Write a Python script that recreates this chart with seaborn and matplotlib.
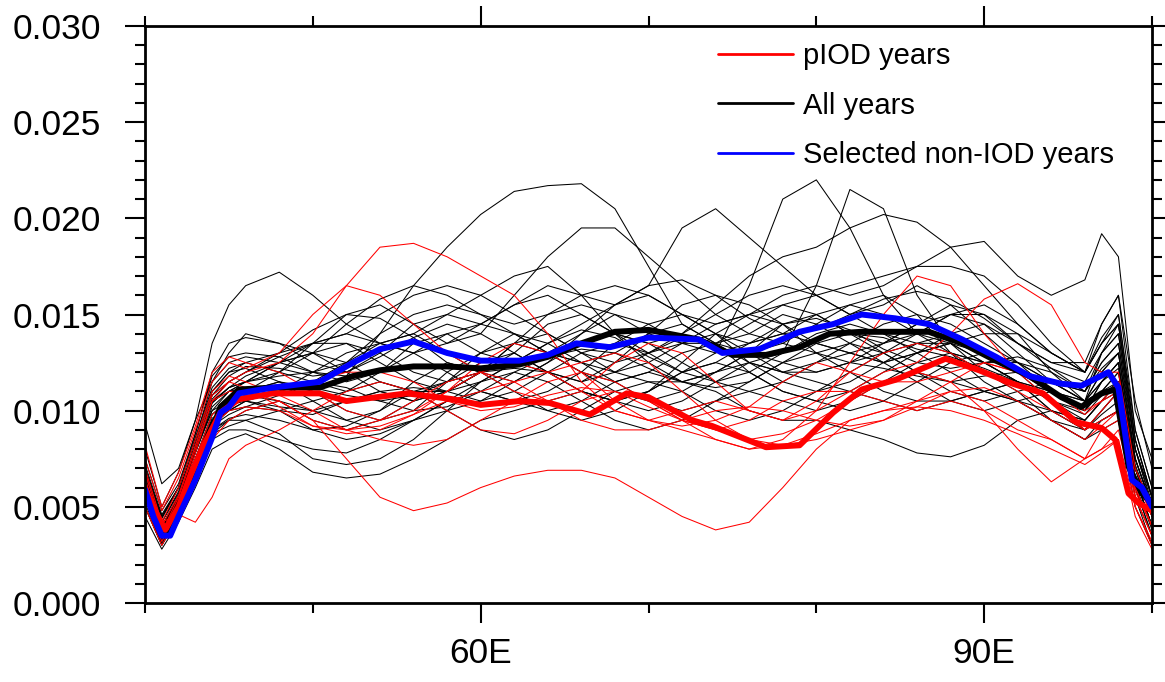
import numpy as np
import pandas as pd
import matplotlib
matplotlib.use("Agg")
import matplotlib.pyplot as plt
from matplotlib.lines import Line2D
from matplotlib.ticker import MultipleLocator, FixedLocator, FormatStrFormatter
import seaborn as sns

# ---------------- data (values in units of 1e-3) ----------------
lon = [40, 41, 42, 43, 44, 45, 46, 48, 50, 52, 54, 56, 58, 60, 62, 64, 66, 68,
       70, 72, 74, 76, 78, 80, 82, 84, 86, 88, 90, 92, 94, 96, 97, 98, 99, 100]

# thin black lines: individual years (all years)
yr_b01 = [6.5, 4.0, 5.5, 8.0, 10.5, 11.0, 11.5, 11.8, 12.0, 11.8, 14.0, 16.5, 18.5, 20.2, 21.4, 21.7, 21.8, 20.5, 17.5, 14.5, 13.5, 14.0, 15.0, 14.5, 13.5, 12.5, 13.0, 13.5, 12.5, 11.5, 10.0, 9.5, 10.5, 11.0, 7.0, 5.0]
yr_b02 = [5.5, 3.5, 5.0, 7.5, 9.5, 10.0, 10.5, 10.0, 9.8, 10.5, 11.0, 10.5, 11.0, 12.0, 12.5, 12.0, 11.0, 10.5, 11.0, 12.0, 13.0, 16.5, 21.0, 22.0, 19.5, 16.0, 14.0, 13.5, 12.5, 11.5, 10.5, 9.0, 10.0, 11.0, 7.5, 5.0]
yr_b03 = [6.0, 3.8, 5.2, 7.8, 10.0, 11.0, 11.5, 12.5, 13.0, 13.5, 12.5, 11.5, 11.0, 12.0, 13.5, 14.0, 13.0, 12.0, 11.5, 11.5, 12.0, 12.5, 13.0, 16.5, 21.5, 20.5, 16.0, 13.5, 12.0, 11.5, 10.5, 10.0, 11.5, 12.5, 7.0, 4.5]
yr_b04 = [7.0, 4.5, 6.0, 8.5, 11.5, 13.0, 14.0, 13.5, 12.5, 12.0, 13.0, 14.5, 15.0, 14.5, 15.5, 16.5, 16.0, 15.5, 16.5, 19.5, 20.5, 19.0, 17.5, 16.0, 15.0, 15.5, 16.5, 15.5, 14.0, 12.5, 11.0, 10.5, 13.0, 14.5, 8.5, 5.5]
yr_b05 = [6.2, 3.9, 5.4, 7.9, 10.4, 11.2, 11.5, 12.5, 13.5, 14.0, 13.5, 13.0, 13.5, 14.5, 15.5, 16.0, 15.0, 14.0, 13.5, 14.0, 15.5, 17.0, 18.0, 18.5, 19.5, 20.2, 19.8, 18.5, 16.5, 14.5, 13.0, 12.0, 13.5, 14.5, 8.5, 5.5]
yr_b06 = [6.0, 3.5, 5.0, 7.5, 9.5, 10.5, 11.0, 12.0, 13.5, 15.0, 15.5, 14.5, 13.5, 14.0, 16.0, 18.0, 19.5, 19.5, 18.0, 16.5, 15.0, 14.0, 13.5, 14.5, 15.5, 16.0, 15.0, 13.0, 11.5, 10.5, 9.5, 9.0, 10.0, 11.0, 6.5, 4.0]
yr_b07 = [8.0, 5.0, 6.8, 9.5, 13.5, 15.5, 16.5, 17.2, 16.0, 14.5, 13.5, 14.0, 15.0, 16.0, 17.0, 17.5, 16.0, 14.0, 13.0, 13.5, 14.5, 15.0, 15.5, 16.0, 16.5, 17.0, 17.5, 17.5, 17.0, 15.5, 13.5, 12.0, 14.5, 16.0, 9.0, 6.0]
yr_b08 = [7.0, 4.5, 6.0, 8.5, 11.0, 12.0, 12.5, 12.0, 11.5, 11.0, 12.0, 13.5, 14.0, 13.0, 12.5, 13.0, 14.0, 15.5, 16.0, 15.0, 14.5, 15.0, 16.0, 16.5, 16.0, 16.5, 17.5, 18.5, 18.8, 17.0, 16.0, 16.8, 19.2, 18.0, 10.0, 7.5]
yr_b09 = [5.0, 3.0, 4.5, 6.5, 8.5, 9.0, 9.0, 8.5, 8.0, 7.8, 8.5, 9.5, 10.5, 11.0, 10.5, 10.0, 10.5, 11.5, 12.0, 11.5, 11.0, 10.0, 9.5, 9.5, 9.0, 8.5, 7.8, 7.6, 8.2, 9.5, 10.0, 9.5, 10.5, 11.5, 6.0, 3.5]
yr_b10 = [4.5, 2.8, 4.2, 6.0, 8.0, 8.5, 8.8, 8.0, 6.8, 6.5, 6.7, 7.5, 8.5, 9.5, 10.0, 10.5, 11.0, 10.5, 10.0, 10.5, 11.5, 12.5, 12.0, 11.5, 11.0, 10.5, 10.0, 10.5, 11.0, 10.5, 9.5, 8.5, 9.5, 10.0, 6.5, 4.0]
yr_b11 = [5.5, 3.2, 4.8, 7.0, 9.0, 9.5, 9.5, 8.8, 7.5, 7.2, 7.5, 8.5, 10.0, 11.5, 12.0, 11.5, 10.5, 9.5, 9.0, 9.5, 10.5, 11.0, 10.5, 10.0, 10.5, 11.5, 12.5, 13.0, 12.5, 11.5, 10.0, 9.0, 9.8, 10.5, 5.5, 3.0]
yr_b12 = [9.3, 6.2, 7.0, 9.5, 11.5, 12.5, 12.8, 12.5, 12.0, 12.5, 13.5, 14.0, 13.0, 12.0, 11.5, 12.5, 14.0, 15.0, 14.5, 13.5, 13.0, 13.5, 14.0, 13.5, 13.0, 12.5, 13.0, 14.0, 14.5, 13.5, 12.5, 12.5, 14.5, 16.0, 10.5, 7.0]
yr_b13 = [6.5, 4.0, 5.5, 8.0, 10.0, 10.5, 11.0, 11.5, 11.0, 10.0, 9.5, 10.0, 11.5, 13.0, 14.0, 13.5, 12.5, 12.0, 12.5, 13.5, 14.0, 13.0, 12.0, 12.5, 13.5, 14.5, 15.0, 14.5, 13.5, 12.5, 11.5, 10.5, 12.0, 13.0, 7.5, 5.0]
yr_b14 = [7.5, 4.8, 6.2, 8.8, 12.0, 13.5, 13.8, 13.5, 13.0, 12.0, 11.0, 10.5, 11.0, 12.0, 13.0, 14.5, 15.0, 14.0, 12.5, 11.5, 12.0, 13.0, 14.5, 15.0, 14.0, 13.0, 12.0, 11.5, 11.0, 11.5, 11.0, 10.0, 11.5, 12.5, 7.0, 4.5]
yr_b15 = [6.0, 3.6, 5.0, 7.2, 9.2, 10.0, 10.5, 11.0, 12.0, 13.0, 13.5, 13.0, 12.0, 11.0, 10.5, 11.0, 12.0, 13.5, 14.5, 15.0, 14.0, 12.5, 11.5, 11.0, 11.5, 12.5, 13.5, 14.0, 13.0, 12.0, 11.0, 10.0, 11.0, 12.0, 6.5, 4.0]
yr_b16 = [5.0, 3.0, 4.5, 6.8, 8.8, 9.2, 9.5, 10.0, 10.5, 11.0, 11.5, 11.0, 10.0, 9.0, 8.5, 9.0, 10.0, 11.0, 11.5, 11.0, 10.0, 9.5, 10.0, 11.0, 12.0, 13.0, 13.5, 13.0, 12.0, 11.0, 9.5, 8.5, 9.0, 9.5, 5.0, 3.0]
yr_b17 = [6.8, 4.2, 5.8, 8.2, 10.8, 11.5, 12.0, 12.8, 13.5, 14.0, 15.0, 16.0, 16.5, 16.0, 15.0, 14.0, 13.0, 12.5, 13.0, 14.0, 15.0, 16.0, 16.5, 16.0, 15.0, 14.0, 13.5, 13.5, 14.0, 14.0, 13.0, 12.0, 13.5, 14.5, 8.0, 5.5]
yr_b18 = [7.0, 4.4, 6.0, 8.5, 11.0, 12.0, 12.2, 11.5, 10.5, 9.5, 9.0, 9.5, 10.5, 11.5, 12.5, 13.0, 12.5, 11.5, 10.5, 10.0, 10.5, 11.5, 12.5, 13.0, 13.5, 13.0, 12.0, 11.0, 10.5, 11.0, 11.5, 11.0, 12.5, 13.5, 7.5, 5.0]
yr_b19 = [6.2, 3.8, 5.3, 7.8, 10.2, 11.0, 11.2, 11.0, 11.5, 12.5, 14.0, 15.0, 15.5, 15.0, 14.0, 13.0, 12.5, 13.0, 14.0, 14.5, 13.5, 12.0, 11.0, 10.5, 11.0, 12.0, 13.0, 13.5, 13.0, 12.0, 10.5, 9.5, 10.5, 11.5, 6.5, 4.0]
yr_b20 = [5.8, 3.5, 5.0, 7.5, 9.8, 10.5, 10.8, 10.5, 9.5, 9.0, 9.5, 10.5, 12.0, 13.0, 13.5, 13.0, 12.0, 11.0, 10.5, 11.0, 12.0, 13.0, 13.5, 13.0, 12.0, 11.0, 10.5, 10.5, 11.0, 11.5, 11.0, 10.0, 11.0, 12.0, 7.0, 4.5]
yr_b21 = [6.6, 4.0, 5.6, 8.0, 10.5, 11.2, 11.8, 12.5, 13.0, 12.5, 11.5, 11.0, 11.5, 12.5, 13.0, 12.0, 11.0, 10.5, 11.0, 12.5, 14.0, 15.0, 14.5, 13.0, 12.5, 13.0, 14.0, 15.0, 15.0, 14.0, 12.0, 10.5, 12.0, 13.0, 7.5, 5.0]
yr_b22 = [5.2, 3.1, 4.6, 6.8, 8.8, 9.5, 10.0, 10.5, 10.0, 9.5, 10.0, 11.0, 11.0, 10.5, 11.0, 12.0, 13.0, 13.5, 13.0, 12.0, 11.5, 12.0, 13.0, 14.0, 14.5, 14.0, 13.0, 12.0, 11.0, 10.5, 10.0, 9.0, 9.5, 10.0, 5.5, 3.5]
yr_b23 = [7.2, 4.6, 6.0, 8.8, 11.8, 12.8, 13.0, 12.8, 12.0, 11.5, 12.0, 13.0, 14.0, 14.5, 14.0, 13.0, 12.0, 11.5, 12.0, 13.0, 13.5, 13.0, 12.5, 12.0, 12.5, 13.5, 14.5, 15.0, 14.5, 13.0, 11.5, 11.0, 13.0, 14.0, 8.0, 5.5]
yr_b24 = [5.6, 3.3, 4.8, 7.0, 9.2, 9.8, 10.2, 10.0, 9.0, 8.5, 8.8, 9.5, 10.0, 10.5, 11.5, 12.5, 13.5, 14.0, 13.5, 12.5, 11.5, 11.0, 11.5, 12.5, 13.0, 12.5, 11.5, 10.5, 10.0, 10.5, 11.0, 10.5, 11.5, 12.5, 6.5, 4.0]
yr_b25 = [6.4, 3.9, 5.4, 7.9, 10.4, 11.2, 11.5, 12.0, 13.0, 14.5, 15.8, 16.5, 16.0, 15.0, 14.5, 15.0, 16.0, 16.5, 16.0, 15.0, 14.0, 13.5, 14.0, 15.0, 15.5, 15.0, 14.0, 13.0, 12.5, 12.5, 12.0, 11.0, 12.5, 13.5, 8.0, 5.0]
yr_b26 = [5.4, 3.2, 4.7, 7.0, 9.0, 9.6, 9.8, 9.5, 9.0, 9.2, 10.0, 11.5, 12.5, 12.0, 11.0, 10.0, 9.5, 10.0, 11.0, 12.0, 12.5, 12.0, 11.0, 10.5, 10.0, 10.5, 11.5, 12.5, 13.0, 12.5, 11.5, 10.5, 11.0, 11.5, 6.0, 3.5]
yr_b27 = [7.0, 4.4, 6.0, 8.6, 11.2, 12.2, 12.5, 13.0, 13.5, 13.5, 13.0, 12.0, 11.5, 12.0, 13.5, 15.0, 15.5, 15.0, 14.0, 13.5, 13.5, 14.5, 15.5, 15.0, 14.0, 13.5, 14.0, 15.0, 15.5, 14.5, 13.0, 12.0, 13.5, 15.0, 9.0, 6.0]
yr_b28 = [6.0, 3.7, 5.2, 7.5, 9.8, 10.6, 11.0, 11.5, 11.2, 10.8, 10.5, 10.8, 11.5, 12.0, 12.2, 12.0, 11.5, 12.0, 13.0, 13.8, 13.5, 12.5, 12.0, 12.0, 12.5, 12.2, 11.8, 11.5, 11.8, 12.0, 11.5, 10.5, 11.5, 12.2, 7.0, 4.5]
yr_b29 = [6.8, 4.2, 5.7, 8.3, 10.8, 11.8, 12.3, 12.2, 11.8, 12.0, 12.8, 13.8, 14.5, 14.0, 13.0, 12.0, 11.5, 12.5, 14.0, 15.5, 16.0, 15.5, 14.5, 13.5, 13.0, 13.5, 14.5, 15.5, 15.0, 13.5, 12.5, 12.0, 13.8, 15.0, 8.5, 5.5]
yr_b30 = [5.9, 3.6, 5.0, 7.4, 9.6, 10.3, 10.5, 10.2, 10.0, 10.5, 11.0, 11.2, 11.0, 11.5, 12.5, 13.5, 14.2, 13.8, 12.8, 12.0, 12.5, 13.5, 14.5, 14.8, 14.2, 13.2, 12.5, 12.2, 12.5, 12.8, 12.2, 11.0, 12.2, 13.0, 7.2, 4.8]
yr_b31 = [6.3, 3.9, 5.4, 8.0, 10.6, 11.5, 12.0, 13.0, 14.2, 15.0, 14.8, 13.8, 12.5, 12.0, 12.5, 13.5, 14.5, 15.5, 16.5, 16.8, 16.0, 14.8, 14.0, 14.2, 15.0, 15.8, 16.2, 15.8, 14.8, 13.5, 12.2, 11.5, 13.0, 14.0, 8.0, 5.2]
yr_b32 = [5.7, 3.4, 4.9, 7.2, 9.4, 10.0, 10.2, 10.8, 11.5, 11.2, 10.5, 10.0, 10.2, 11.0, 12.0, 12.8, 13.2, 13.0, 12.2, 11.5, 11.2, 11.5, 12.5, 13.5, 14.0, 13.8, 13.2, 12.8, 12.2, 11.5, 10.5, 9.8, 10.8, 11.5, 6.2, 3.8]

# thin red lines: individual pIOD years
yr_r01 = [6.0, 3.5, 5.2, 7.8, 10.5, 11.5, 12.0, 12.5, 14.0, 16.5, 18.5, 18.7, 18.0, 17.0, 16.0, 14.0, 11.5, 10.0, 9.5, 10.0, 10.5, 10.0, 9.5, 10.5, 12.0, 13.0, 13.5, 13.0, 12.0, 11.0, 10.0, 9.0, 10.0, 11.0, 6.0, 4.0]
yr_r02 = [5.0, 3.0, 4.5, 6.5, 8.5, 9.5, 10.0, 10.5, 9.5, 7.5, 5.5, 4.8, 5.2, 6.0, 6.6, 6.9, 6.9, 6.5, 5.5, 4.5, 3.8, 4.2, 6.0, 8.0, 9.5, 10.0, 10.5, 11.0, 10.5, 9.5, 8.5, 7.5, 8.0, 8.5, 5.0, 3.0]
yr_r03 = [5.5, 4.2, 4.6, 4.2, 5.5, 7.5, 8.2, 9.0, 10.0, 11.0, 11.5, 11.0, 10.0, 9.0, 8.8, 9.5, 10.5, 11.0, 10.5, 9.5, 9.0, 8.5, 8.8, 9.5, 10.5, 11.5, 12.0, 11.5, 10.0, 9.0, 8.5, 7.5, 8.0, 9.0, 5.5, 3.5]
yr_r04 = [7.5, 4.8, 6.5, 9.0, 11.5, 12.5, 12.2, 13.0, 15.0, 16.5, 16.0, 14.5, 13.0, 12.0, 11.0, 10.5, 11.0, 12.5, 13.5, 13.0, 11.5, 10.0, 9.5, 10.0, 11.0, 12.0, 12.5, 14.0, 15.8, 16.6, 15.5, 12.5, 12.0, 12.0, 7.0, 5.0]
yr_r05 = [8.2, 5.0, 6.8, 9.2, 12.0, 12.8, 12.5, 12.0, 11.0, 10.0, 9.5, 10.0, 11.0, 12.0, 12.5, 12.0, 11.0, 10.0, 9.5, 9.0, 8.5, 8.0, 8.5, 10.0, 12.5, 15.0, 17.0, 16.5, 14.0, 12.0, 11.0, 10.0, 10.5, 11.0, 6.0, 4.0]
yr_r06 = [6.5, 3.7, 5.5, 8.0, 10.5, 11.0, 11.0, 10.5, 9.5, 9.0, 9.2, 9.8, 10.5, 11.0, 11.5, 12.0, 12.5, 13.0, 12.5, 11.0, 9.5, 8.5, 8.2, 8.5, 9.0, 9.5, 10.5, 11.5, 12.5, 12.0, 10.5, 9.0, 9.5, 10.0, 5.5, 3.5]
yr_r07 = [6.0, 3.4, 5.0, 7.5, 9.8, 10.5, 10.8, 11.0, 11.5, 12.0, 12.0, 11.5, 10.5, 10.0, 10.2, 10.8, 11.2, 11.0, 10.2, 9.5, 9.0, 9.5, 10.5, 11.0, 11.0, 10.5, 10.0, 10.5, 10.0, 8.0, 6.3, 7.5, 9.0, 9.5, 5.0, 3.2]
yr_r08 = [7.0, 4.2, 6.0, 8.5, 11.0, 11.8, 11.5, 10.8, 10.0, 9.0, 8.5, 8.2, 8.5, 9.5, 10.5, 11.5, 12.0, 11.5, 10.5, 9.5, 8.5, 8.0, 8.2, 8.8, 9.5, 10.0, 10.2, 10.0, 9.5, 8.8, 8.0, 7.2, 7.8, 8.5, 4.5, 2.8]
yr_r09 = [5.5, 3.2, 4.8, 7.2, 9.2, 10.0, 10.2, 10.0, 9.2, 8.8, 9.0, 9.8, 11.0, 12.5, 13.5, 13.0, 12.0, 10.5, 9.5, 9.2, 9.5, 10.2, 11.5, 12.5, 12.0, 11.5, 11.5, 12.0, 12.5, 12.0, 11.0, 9.8, 10.5, 11.5, 6.5, 4.5]
yr_r10 = [6.8, 4.0, 5.6, 8.2, 10.8, 11.5, 11.2, 10.2, 9.2, 9.0, 9.5, 10.5, 11.5, 12.0, 11.5, 10.5, 9.5, 9.0, 9.0, 9.5, 10.0, 10.2, 10.0, 9.5, 9.2, 9.5, 10.2, 11.0, 11.2, 10.5, 9.5, 8.5, 9.2, 10.0, 5.8, 4.0]

# thick composite lines
piod_lon = [40, 40.6, 41.2, 42, 42.7, 43.5, 44.5, 45.6, 47.6, 50.4, 52, 55.6, 58.3, 60, 62.3, 64.1, 66.5, 68.7, 70,
            72.6, 73.8, 77, 79, 81, 82.7, 84.7, 87.7, 89.7, 91.7, 93.5, 95.5, 97, 97.8, 98.6, 99.2, 100]
piod_val = [6.0, 4.8, 3.8, 5.0, 6.6, 8.2, 9.9, 10.6, 10.9, 10.9, 10.5, 10.9, 10.6, 10.3, 10.5, 10.4, 9.8, 10.9, 10.7,
            9.5, 9.2, 8.1, 8.2, 9.9, 11.1, 11.6, 12.7, 12.1, 11.4, 10.9, 9.4, 9.1, 8.5, 5.7, 5.2, 4.8]

all_lon = [40, 41, 41.5, 42, 43, 44, 44.5, 45, 45.6, 47.6, 50.4, 52.4, 54, 56, 58, 60, 62.3, 64, 66, 68, 70, 73, 75,
           77, 79, 80.8, 82.7, 84.7, 86.7, 88.7, 90.7, 92.7, 94.6, 95.8, 97, 97.8, 98.6, 99.4, 100]
all_val = [5.7, 3.7, 3.6, 4.6, 6.8, 9.0, 10.2, 10.6, 11.1, 11.2, 11.2, 11.8, 12.1, 12.3, 12.3, 12.2, 12.4, 12.8, 13.5,
           14.1, 14.2, 13.7, 12.9, 12.9, 13.3, 14.0, 14.1, 14.1, 14.1, 13.5, 12.6, 11.8, 10.7, 10.2, 10.9, 11.1, 7.1,
           5.7, 5.2]

nonIOD_lon = [40, 40.5, 41, 41.5, 42, 43, 44, 44.5, 45, 45.6, 47.6, 50.4, 52.4, 54, 56, 58, 60, 62.3, 64, 65.7, 67.7,
              70, 73, 74.4, 76.6, 79, 81, 82.7, 84.7, 86.7, 88.7, 90.7, 92.7, 94.6, 95.8, 97.4, 98, 98.8, 99.4, 100]
nonIOD_val = [5.9, 4.5, 3.5, 3.5, 4.5, 6.4, 8.6, 9.9, 10.2, 10.9, 11.2, 11.5, 12.5, 13.2, 13.6, 13.0, 12.6, 12.6,
              12.9, 13.5, 13.3, 13.8, 13.7, 13.0, 13.2, 14.1, 14.5, 15.0, 14.8, 14.5, 13.7, 12.8, 11.8, 11.4, 11.3,
              12.0, 11.2, 6.4, 6.0, 5.0]

legend_labels = ["pIOD years", "All years", "Selected non-IOD years"]
xtick_pos = [60, 90]
xtick_labels = ["60E", "90E"]

black_years = [yr_b01, yr_b02, yr_b03, yr_b04, yr_b05, yr_b06, yr_b07, yr_b08, yr_b09, yr_b10, yr_b11,
               yr_b12, yr_b13, yr_b14, yr_b15, yr_b16, yr_b17, yr_b18, yr_b19, yr_b20, yr_b21, yr_b22,
               yr_b23, yr_b24, yr_b25, yr_b26, yr_b27, yr_b28, yr_b29, yr_b30, yr_b31, yr_b32]
red_years = [yr_r01, yr_r02, yr_r03, yr_r04, yr_r05, yr_r06, yr_r07, yr_r08, yr_r09, yr_r10]

SCALE = 1e-3


def long_frame(series_list):
    rows = []
    for k, s in enumerate(series_list):
        for x, v in zip(lon, s):
            rows.append({"lon": x, "val": v * SCALE, "year": k})
    return pd.DataFrame(rows)


df_black = long_frame(black_years)
df_red = long_frame(red_years)
df_piod = pd.DataFrame({"lon": piod_lon, "val": np.array(piod_val) * SCALE})
df_all = pd.DataFrame({"lon": all_lon, "val": np.array(all_val) * SCALE})
df_non = pd.DataFrame({"lon": nonIOD_lon, "val": np.array(nonIOD_val) * SCALE})

# ---------------- style ----------------
sns.set_style("ticks")
plt.rcParams["font.family"] = ["Liberation Sans", "DejaVu Sans"]
plt.rcParams["text.color"] = "black"
plt.rcParams["axes.labelcolor"] = "black"
plt.rcParams["xtick.color"] = "black"
plt.rcParams["ytick.color"] = "black"

fig = plt.figure(figsize=(11.65, 6.82), dpi=100)
ax = fig.add_axes([145 / 1165, 1 - 603 / 682, (1152 - 145) / 1165, (603 - 26) / 682])

thin_kw = dict(estimator=None, sort=False, legend=False, linewidth=0.75, ax=ax)
sns.lineplot(data=df_black, x="lon", y="val", units="year", color="black", **thin_kw)
sns.lineplot(data=df_red, x="lon", y="val", units="year", color="red", **thin_kw)

thick_kw = dict(estimator=None, sort=False, legend=False, linewidth=4.3, ax=ax)
sns.lineplot(data=df_all, x="lon", y="val", color="black", **thick_kw)
sns.lineplot(data=df_piod, x="lon", y="val", color="red", **thick_kw)
sns.lineplot(data=df_non, x="lon", y="val", color="blue", **thick_kw)

for ln in ax.get_lines():
    ln.set_solid_joinstyle("round")
    ln.set_solid_capstyle("round")

ax.set_xlim(40, 100)
ax.set_ylim(0, 0.03)
ax.set_xlabel("")
ax.set_ylabel("")

ax.xaxis.set_major_locator(FixedLocator(xtick_pos))
ax.set_xticklabels(xtick_labels)
ax.xaxis.set_minor_locator(MultipleLocator(10))
ax.yaxis.set_major_locator(MultipleLocator(0.005))
ax.yaxis.set_minor_locator(MultipleLocator(0.001))
ax.yaxis.set_major_formatter(FormatStrFormatter("%.3f"))

ax.tick_params(which="both", direction="out", top=True, right=True,
               labeltop=False, labelright=False, width=1.5, colors="black",
               labelcolor="black")
ax.tick_params(which="major", length=14.5, labelsize=25.5)
ax.tick_params(which="minor", length=7)
ax.tick_params(axis="y", which="major", pad=17)
ax.tick_params(axis="x", which="major", pad=10)

for sp in ax.spines.values():
    sp.set_linewidth(2)
    sp.set_color("black")

handles = [Line2D([], [], color="red", lw=2),
           Line2D([], [], color="black", lw=2),
           Line2D([], [], color="blue", lw=2)]
ax.legend(handles, legend_labels, loc="upper left",
          bbox_to_anchor=(718 / 1165, 1 - 42 / 682), bbox_transform=fig.transFigure,
          frameon=False, fontsize=21, handlelength=2.57, handletextpad=0.34,
          labelspacing=0.74, borderpad=0, borderaxespad=0, labelcolor="black")

fig.savefig("out.png", dpi=100)
